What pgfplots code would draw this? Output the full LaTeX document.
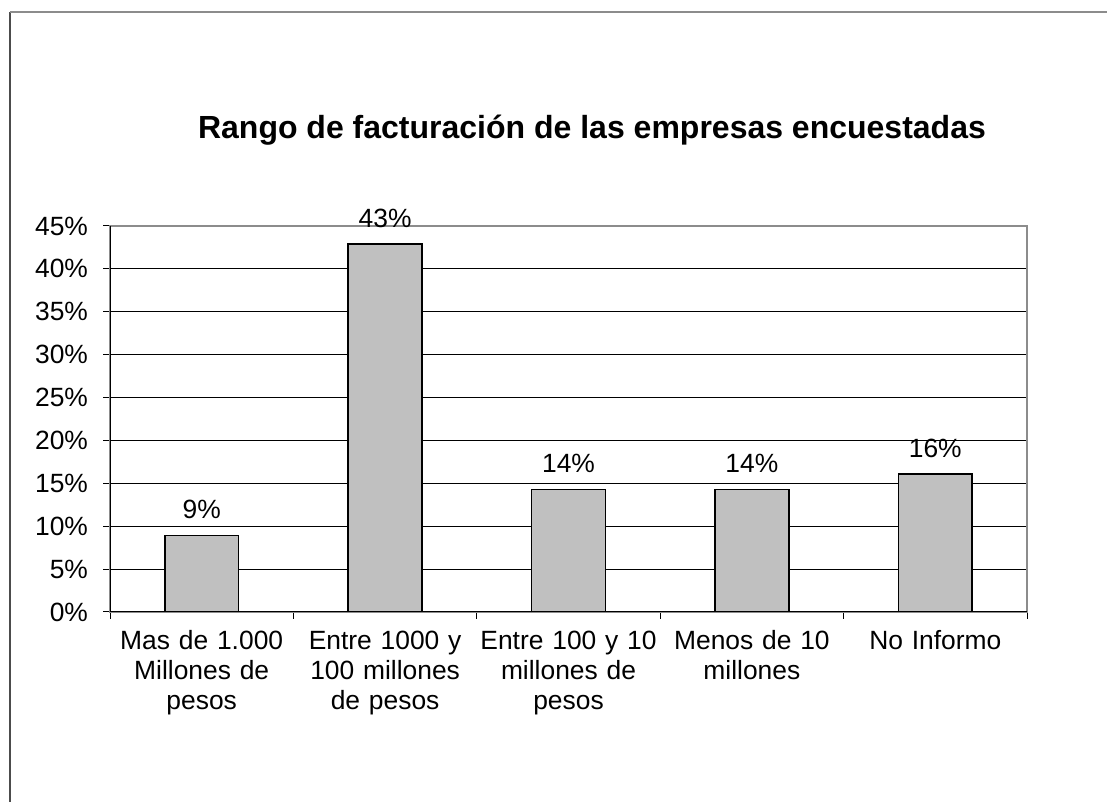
\documentclass[border=0pt]{standalone}
\usepackage{pgfplots}
\pgfplotsset{compat=1.18}
\usepackage{fontspec}
\setmainfont{Liberation Sans}
\begin{document}
\begin{tikzpicture}
\useasboundingbox (0,0) rectangle (553.5pt,401pt);
\draw[draw=black!70, line width=0.6pt] (5pt,0) -- (5pt,395pt);
\draw[draw=black!45, line width=0.6pt] (5pt,395pt) -- (553.5pt,395pt);
\node[font=\bfseries\fontsize{16}{19}\selectfont] at (296pt,336pt) {Rango de facturación de las empresas encuestadas};
\begin{axis}[
  at={(55pt,95pt)}, anchor=south west,
  scale only axis, width=458.5pt, height=193pt,
  xmin=-0.5, xmax=4.5, ymin=0, ymax=45,
  ytick={0,5,...,45},
  yticklabel={\pgfmathprintnumber{\tick}\%},
  /pgf/number format/assume math mode=true,
  xtick={0,1,2,3,4},
  xticklabels={{\strut Mas de 1.000\\\strut Millones de\\\strut pesos},{\strut Entre 1000 y\\\strut 100 millones\\\strut de pesos},{\strut Entre 100 y 10\\\strut millones de\\\strut pesos},{\strut Menos de 10\\\strut millones},{\strut No Informo}},
  major x tick style={draw=none},
  minor xtick={-0.5,0.5,1.5,2.5,3.5,4.5},
  minor x tick style={draw=black, line width=0.5pt},
  minor tick length=3.5pt,
  major tick length=3.5pt,
  tick align=outside,
  xtick pos=bottom, ytick pos=left,
  ytick style={draw=black, line width=0.5pt},
  ymajorgrids, grid style={draw=black, line width=0.5pt},
  axis line style={draw=black!45, line width=0.8pt},
  ticklabel style={font=\fontsize{13.2}{15}\selectfont},
  xticklabel style={align=center, text width=95pt, anchor=north, yshift=-1pt},
  yticklabel style={xshift=-4pt},
  nodes near coords,
  point meta=explicit symbolic,
  every node near coord/.append style={font=\fontsize{13.2}{15}\selectfont, yshift=4.5pt},
]
\addplot[ybar, bar width=0.403, fill={rgb,255:red,192;green,192;blue,192}, draw=black, line width=0.8pt]
 coordinates {(0,8.9)[9\%] (1,42.9)[43\%] (2,14.3)[14\%] (3,14.3)[14\%] (4,16.1)[16\%]};
\draw[black, line width=0.8pt] (rel axis cs:0,0) -- (rel axis cs:0,1);
\draw[black, line width=0.8pt] (rel axis cs:0,0) -- (rel axis cs:1,0);
\end{axis}
\end{tikzpicture}
\end{document}
